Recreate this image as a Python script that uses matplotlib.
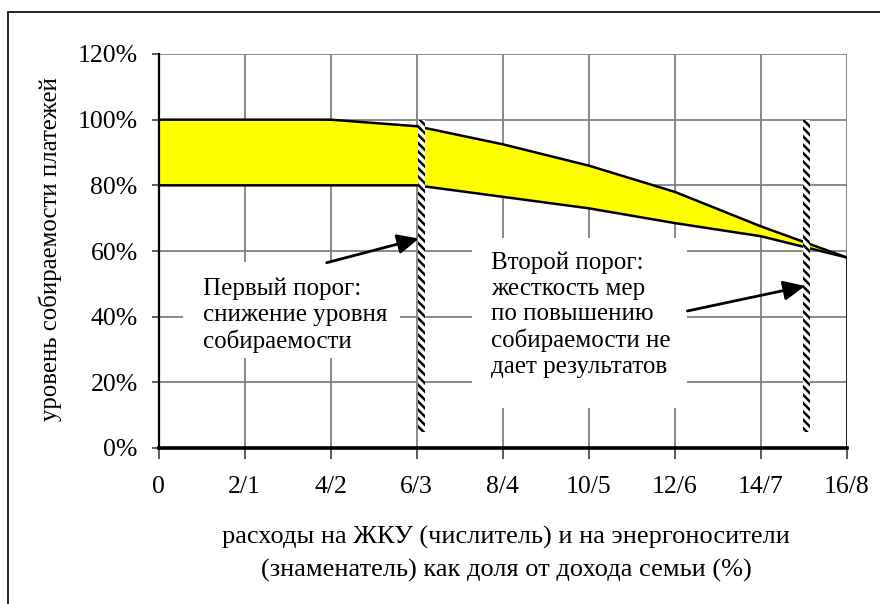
import matplotlib
matplotlib.use('Agg')
import matplotlib.pyplot as plt
from matplotlib.patches import Rectangle, FancyArrowPatch
from matplotlib.transforms import Bbox, TransformedBbox
import numpy as np

plt.rcParams['font.family'] = ['Liberation Serif', 'DejaVu Serif']
plt.rcParams['hatch.linewidth'] = 1.8
plt.rcParams['hatch.color'] = 'black'

# ---------------- data ----------------
categories = ['0', '2/1', '4/2', '6/3', '8/4', '10/5', '12/6', '14/7', '16/8']
lower_pct = [80, 80, 80, 80, 76.5, 73, 68.5, 64.5, 58]
upper_pct = [100, 100, 100, 98, 92.5, 86, 78, 67.5, 58]
y_ticks = [0, 20, 40, 60, 80, 100, 120]
y_tick_labels = ['0%', '20%', '40%', '60%', '80%', '100%', '120%']
thresholds = [3.06, 7.535]
threshold_span = [5, 100]
note1 = "Первый порог:\nснижение уровня\nсобираемости"
note2 = "Второй порог:\nжесткость мер\nпо повышению\nсобираемости не\nдает результатов"
x_label = "расходы на ЖКУ (числитель) и на энергоносители\n(знаменатель) как доля от дохода семьи (%)"
y_label = "уровень собираемости платежей"

# ---------------- layout helpers (pixels) ----------------
W, H = 880, 604
fig = plt.figure(figsize=(W / 100, H / 100), dpi=100)
fig.patch.set_facecolor('white')


def fx(px):
    return px / W


def fy(py):
    return 1 - py / H


L, R, T, B = 158.5, 847, 54, 448
ax = fig.add_axes([fx(L), fy(B), fx(R) - fx(L), fy(T) - fy(B)])
x = np.arange(len(categories))
ax.set_xlim(0, len(categories) - 1)
ax.set_ylim(0, 120)

# grid
for xi in x:
    ax.axvline(xi, color='#808080', lw=1.3, zorder=1)
for yv in y_ticks:
    ax.axhline(yv, color='#808080', lw=1.3, zorder=1)

# band
ax.fill_between(x, lower_pct, upper_pct, color='#FFFF00', lw=0, zorder=2)
ax.plot(x, upper_pct, color='black', lw=1.8, zorder=3, solid_capstyle='butt')
ax.plot(x, lower_pct, color='black', lw=1.8, zorder=3, solid_capstyle='butt')
ax.plot([x[-1], x[-1]], [0, lower_pct[-1]], color='black', lw=1.8, zorder=3)

# hatched thresholds
px_per_x = (R - L) / (len(categories) - 1)
w = 7 / px_per_x
for t in thresholds:
    ax.add_patch(Rectangle((t - w / 2, threshold_span[0]), w,
                           threshold_span[1] - threshold_span[0],
                           facecolor='white', edgecolor='black',
                           hatch='\\\\\\\\', lw=0, zorder=4))

# spines / ticks
for s in ['top', 'right']:
    ax.spines[s].set_visible(False)
ax.spines['left'].set_linewidth(1.6)
ax.spines['bottom'].set_linewidth(2.6)
ax.spines['left'].set_zorder(5)
ax.spines['bottom'].set_zorder(5)
ax.set_xticks(x, categories)
ax.set_yticks(y_ticks, y_tick_labels)
ax.tick_params(axis='x', direction='out', length=8, width=1.2, pad=12,
               labelsize=18.5, color='#404040')
ax.tick_params(axis='y', direction='out', length=5, width=1.2, pad=10,
               labelsize=18.5, color='#404040')

# axis titles
fig.text(fx(506), fy(554), x_label, ha='center', va='center', fontsize=19,
         linespacing=1.6)
fig.text(fx(50), fy(249), y_label, ha='center', va='center', fontsize=17.8,
         rotation=90)

# text boxes
boxes = [(183, 262, 400, 358), (472, 238, 687, 408)]
for (x0, y0, x1, y1) in boxes:
    fig.patches.append(Rectangle((fx(x0), fy(y1)), fx(x1) - fx(x0), fy(y0) - fy(y1),
                                 transform=fig.transFigure, facecolor='white',
                                 edgecolor='none', zorder=2))

t1 = fig.text(fx(202.7), fy(278), note1, ha='left', va='top', fontsize=18,
              linespacing=1.2, zorder=3)
t1.set_clip_box(TransformedBbox(Bbox.from_extents(fx(183), fy(358), fx(400), fy(262)),
                                fig.transFigure))
t1.set_clip_on(True)

fig.text(fx(490.7), fy(252), note2, ha='left', va='top', fontsize=18,
         linespacing=1.2, zorder=3)

# arrows
arrows = [((326.7, 262.7), (419, 238.5)), ((687.3, 311), (805, 286))]
for (tail, head) in arrows:
    fig.patches.append(FancyArrowPatch(
        (fx(tail[0]), fy(tail[1])), (fx(head[0]), fy(head[1])),
        transform=fig.transFigure, arrowstyle='-|>,head_length=0.65,head_width=0.3',
        mutation_scale=20, color='black', lw=2, shrinkA=0, shrinkB=0, zorder=4))

# outer frame
fig.patches.append(Rectangle((fx(8), fy(620)), fx(900) - fx(8), fy(12) - fy(620),
                             transform=fig.transFigure, fill=False,
                             edgecolor='black', lw=1.2, zorder=5))

fig.savefig('out.png', dpi=100, facecolor='white')
